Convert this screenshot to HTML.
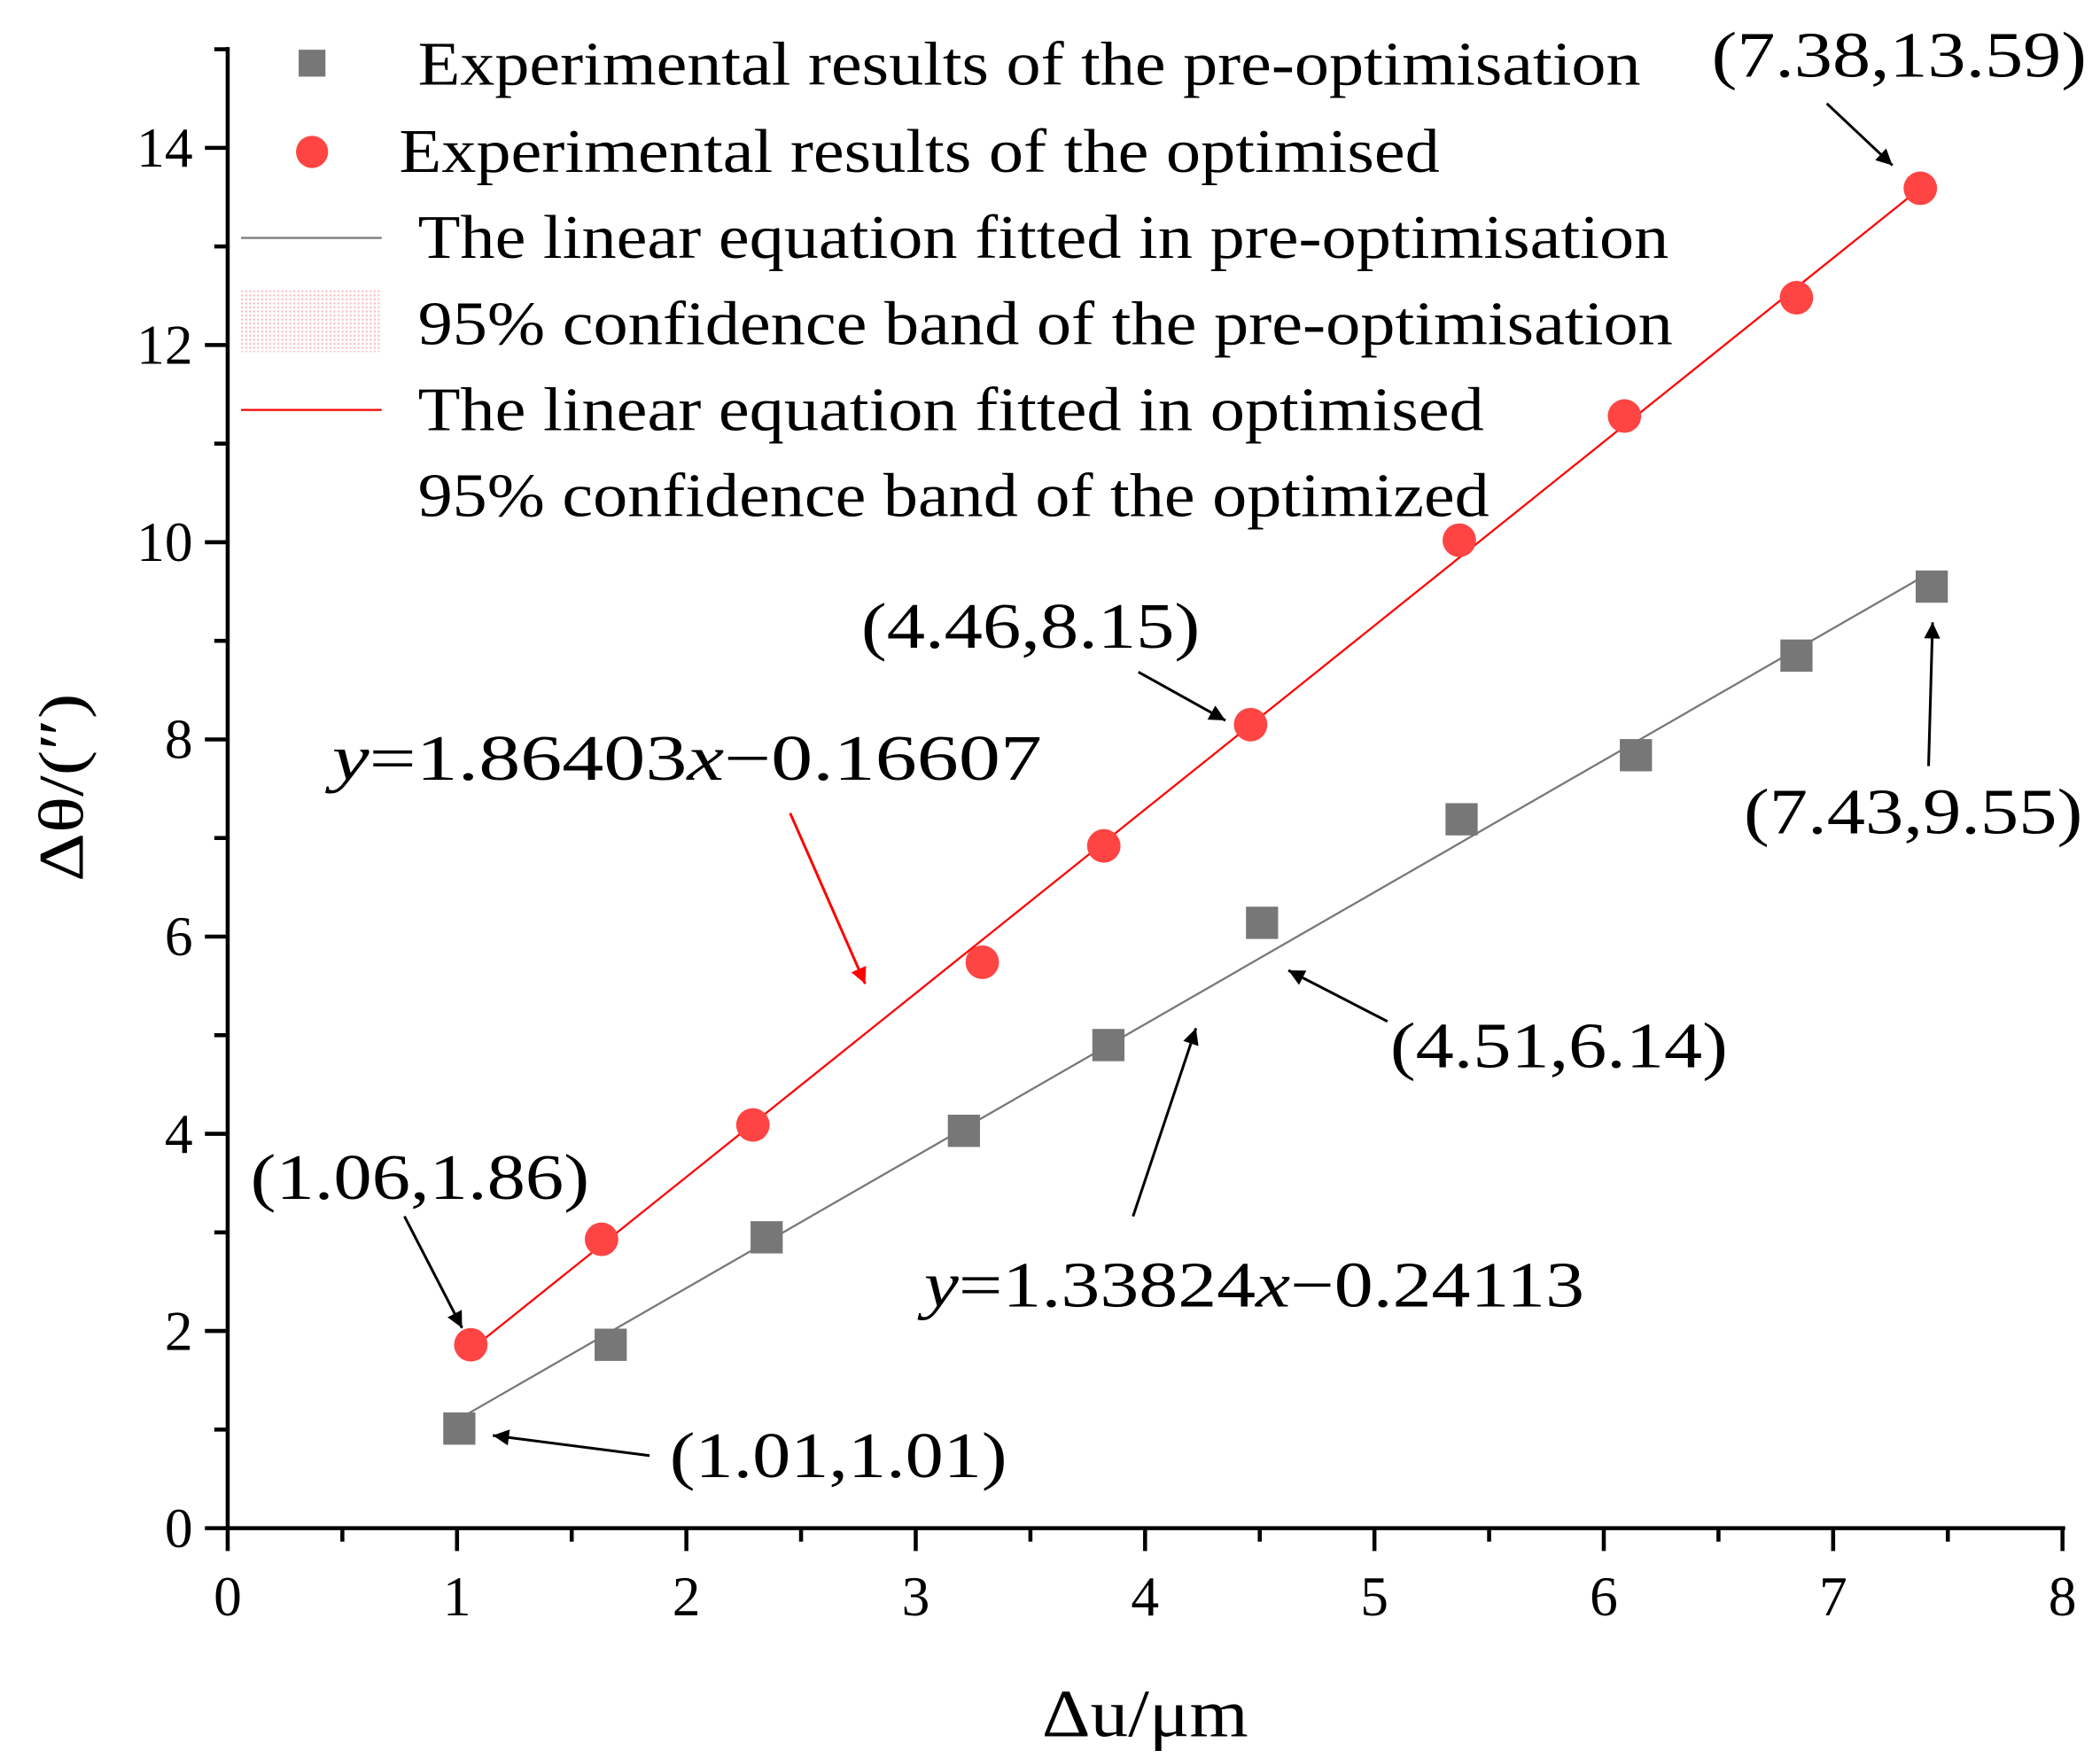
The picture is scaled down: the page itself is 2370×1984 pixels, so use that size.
<!DOCTYPE html>
<html><head><meta charset="utf-8"><style>
html,body{margin:0;padding:0;background:#fff;}
svg{display:block;font-family:"Liberation Serif",serif;}
</style></head><body>
<svg id="chart" width="2370" height="1984" viewBox="0 0 1568 1308" preserveAspectRatio="none" xmlns="http://www.w3.org/2000/svg">
<defs>
<marker id="ah" viewBox="0 0 10 10" refX="10" refY="5" markerWidth="16" markerHeight="12" markerUnits="userSpaceOnUse" orient="auto"><path d="M0,0 L10,5 L0,10 z" fill="#000"/></marker>
<marker id="ahr" viewBox="0 0 10 10" refX="10" refY="5" markerWidth="16" markerHeight="12" markerUnits="userSpaceOnUse" orient="auto"><path d="M0,0 L10,5 L0,10 z" fill="#f00"/></marker>
<pattern id="dots" width="3" height="3" patternUnits="userSpaceOnUse"><rect width="1.5" height="1.5" fill="#f4a0a0"/></pattern>
</defs>
<g id="axes"></g>
<g id="marks"></g>
<g font-size="46" lengthAdjust="spacingAndGlyphs">
<rect x="223" y="37" width="20" height="20" fill="#777"/>
<text x="312" y="63" textLength="913" lengthAdjust="spacingAndGlyphs">Experimental results of the pre-optimisation</text>
<circle cx="233" cy="113" r="12" fill="#f44"/>
<text x="298" y="128" textLength="777" lengthAdjust="spacingAndGlyphs">Experimental results of the optimised</text>
<line x1="180" y1="177" x2="285" y2="177" stroke="#777" stroke-width="1.5"/>
<text x="312" y="192" textLength="934" lengthAdjust="spacingAndGlyphs">The linear equation fitted in pre-optimisation</text>
<rect x="180" y="216" width="105" height="46" fill="url(#dots)" opacity="0.6"/>
<text x="312" y="256" textLength="937" lengthAdjust="spacingAndGlyphs">95% confidence band of the pre-optimisation</text>
<line x1="180" y1="305" x2="285" y2="305" stroke="#f00" stroke-width="1.5"/>
<text x="312" y="320" textLength="796" lengthAdjust="spacingAndGlyphs">The linear equation fitted in optimised</text>
<text x="312" y="384" textLength="800" lengthAdjust="spacingAndGlyphs">95% confidence band of the optimized</text>
</g>
<g font-size="48">
<text x="1278" y="57" textLength="280" lengthAdjust="spacingAndGlyphs">(7.38,13.59)</text>
<line x1="1364" y1="77" x2="1413" y2="123" stroke="#000" stroke-width="2" marker-end="url(#ah)"/>
<text x="643" y="482" textLength="253" lengthAdjust="spacingAndGlyphs">(4.46,8.15)</text>
<line x1="850" y1="500" x2="915" y2="536" stroke="#000" stroke-width="2" marker-end="url(#ah)"/>
<text x="1302" y="620" textLength="253" lengthAdjust="spacingAndGlyphs">(7.43,9.55)</text>
<line x1="1440" y1="570" x2="1443" y2="463" stroke="#000" stroke-width="2" marker-end="url(#ah)"/>
<text x="1038" y="794" textLength="252" lengthAdjust="spacingAndGlyphs">(4.51,6.14)</text>
<line x1="1036" y1="760" x2="962" y2="722" stroke="#000" stroke-width="2" marker-end="url(#ah)"/>
<text x="187" y="892" textLength="253" lengthAdjust="spacingAndGlyphs">(1.06,1.86)</text>
<line x1="302" y1="905" x2="345" y2="988" stroke="#000" stroke-width="2" marker-end="url(#ah)"/>
<text x="500" y="1099" textLength="252" lengthAdjust="spacingAndGlyphs">(1.01,1.01)</text>
<line x1="485" y1="1083" x2="368" y2="1068" stroke="#000" stroke-width="2" marker-end="url(#ah)"/>
<text x="248" y="580" textLength="530" lengthAdjust="spacingAndGlyphs"><tspan font-style="italic">y</tspan>=1.86403<tspan font-style="italic">x</tspan>−0.16607</text>
<line x1="590" y1="605" x2="646" y2="732" stroke="#f00" stroke-width="2" marker-end="url(#ahr)"/>
<text x="690" y="972" textLength="493" lengthAdjust="spacingAndGlyphs"><tspan font-style="italic">y</tspan>=1.33824<tspan font-style="italic">x</tspan>−0.24113</text>
<line x1="846" y1="905" x2="893" y2="765" stroke="#000" stroke-width="2" marker-end="url(#ah)"/>
</g>
<text x="855" y="1292" font-size="50" text-anchor="middle" textLength="154" lengthAdjust="spacingAndGlyphs">Δu/μm</text>
<text transform="translate(62,586) rotate(-90)" font-size="48" text-anchor="middle" textLength="140" lengthAdjust="spacingAndGlyphs">Δθ/(″)</text>
</svg>
<script>
const preX=[1.01,1.67,2.35,3.21,3.84,4.51,5.38,6.14,6.84,7.43];
const preY=[1.01,1.86,2.95,4.03,4.90,6.14,7.19,7.84,8.85,9.55];
const optX=[1.06,1.63,2.29,3.29,3.82,4.46,5.37,6.09,6.84,7.38];
const optY=[1.86,2.93,4.09,5.74,6.92,8.15,10.02,11.28,12.48,13.59];
const preFit=[1.33824,-0.24113];
const optFit=[1.86403,-0.16607];
const xTicks=[0,1,2,3,4,5,6,7,8];
const yTicks=[0,2,4,6,8,10,12,14];

const NS="http://www.w3.org/2000/svg";
const X0=170,X1=1540,XMAX=8,Y0=1137,Y14=110;
function sx(v){return X0+(X1-X0)*v/XMAX;}
function sy(v){return Y0+(Y14-Y0)*v/14;}
function mk(tag,attrs,parent){const e=document.createElementNS(NS,tag);for(const k in attrs)e.setAttribute(k,attrs[k]);parent.appendChild(e);return e;}
const axes=document.getElementById('axes'),marks=document.getElementById('marks');
let e;
e=mk('line',{x1:X0,y1:35,x2:X0,y2:Y0+1.5,stroke:'#000','stroke-width':3},axes);


e=mk('line',{x1:X0-1.5,y1:Y0,x2:X1+2,y2:Y0,stroke:'#000','stroke-width':3},axes);


xTicks.forEach(t=>{
  const tk=mk('line',{x1:sx(t),y1:Y0,x2:sx(t),y2:Y0+17,stroke:'#000','stroke-width':3},axes);
  
  
  const lb=mk('text',{x:sx(t),y:Y0+65,'font-size':42,'text-anchor':'middle'},axes);lb.textContent=t;
  
  
  if(t<XMAX){const m=mk('line',{x1:sx(t+0.5),y1:Y0,x2:sx(t+0.5),y2:Y0+10,stroke:'#000','stroke-width':3},axes);
  
  }
});
yTicks.forEach(t=>{
  const tk=mk('line',{x1:X0-17,y1:sy(t),x2:X0,y2:sy(t),stroke:'#000','stroke-width':3},axes);
  
  
  const lb=mk('text',{x:X0-26,y:sy(t)+14,'font-size':42,'text-anchor':'end'},axes);lb.textContent=t;
  
  
  const m=mk('line',{x1:X0-10,y1:sy(t+1),x2:X0,y2:sy(t+1),stroke:'#000','stroke-width':3},axes);
  
  
});
function fitLine(fit,xs,color,name){
  const a=Math.min(...xs),b=Math.max(...xs);
  const l=mk('line',{x1:sx(a),y1:sy(fit[0]*a+fit[1]),x2:sx(b),y2:sy(fit[0]*b+fit[1]),stroke:color,'stroke-width':1.5},marks);
  
  
}
fitLine(preFit,preX,'#777','fit-line-pre');
fitLine(optFit,optX,'#f00','fit-line-optimised');
preX.forEach((x,i)=>{
  const r=mk('rect',{x:sx(x)-12,y:sy(preY[i])-12,width:24,height:24,fill:'#777'},marks);
  
  
});
optX.forEach((x,i)=>{
  const c=mk('circle',{cx:sx(x),cy:sy(optY[i]),r:12.5,fill:'#f44'},marks);
  
  
});
</script>
</body></html>
